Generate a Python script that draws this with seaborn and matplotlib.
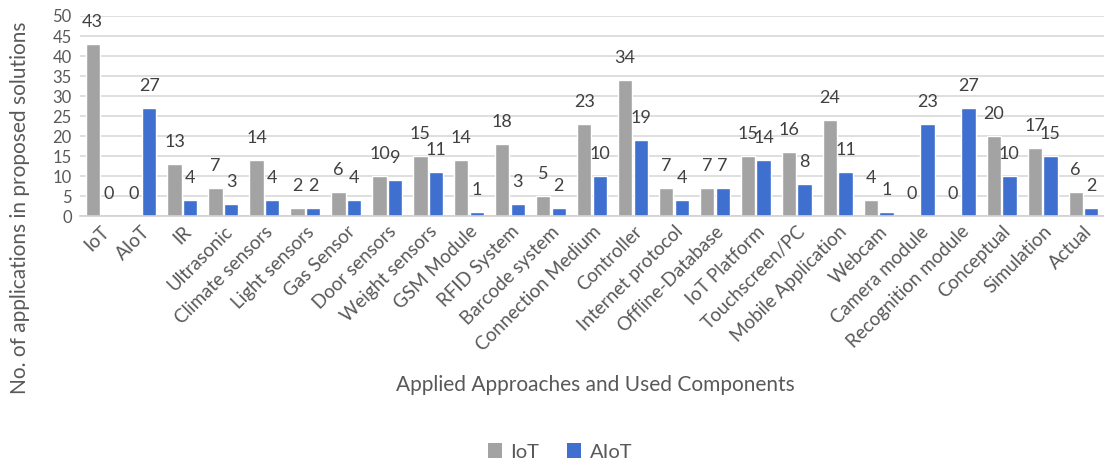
import matplotlib
matplotlib.use("Agg")
import matplotlib.pyplot as plt
import seaborn as sns
import pandas as pd
from matplotlib.patches import Patch

categories = ["IoT", "AIoT", "IR", "Ultrasonic", "Climate sensors", "Light sensors",
              "Gas Sensor", "Door sensors", "Weight sensors", "GSM Module", "RFID System",
              "Barcode system", "Connection Medium", "Controller", "Internet protocol",
              "Offline-Database", "IoT Platform", "Touchscreen/PC", "Mobile Application",
              "Webcam", "Camera module", "Recognition module", "Conceptual", "Simulation",
              "Actual"]
iot_values = [43, 0, 13, 7, 14, 2, 6, 10, 15, 14, 18, 5, 23, 34, 7, 7, 15, 16, 24, 4, 0, 0, 20, 17, 6]
aiot_values = [0, 27, 4, 3, 4, 2, 4, 9, 11, 1, 3, 2, 10, 19, 4, 7, 14, 8, 11, 1, 23, 27, 10, 15, 2]
series_names = ["IoT", "AIoT"]
y_ticks = [0, 5, 10, 15, 20, 25, 30, 35, 40, 45, 50]

sns.set_style("white")
plt.rcParams['font.family'] = ['Lato', 'DejaVu Sans']

df = pd.DataFrame({
    "cat": categories * 2,
    "val": iot_values + aiot_values,
    "series": [series_names[0]] * len(categories) + [series_names[1]] * len(categories),
})

colors = {"IoT": "#A3A3A3", "AIoT": "#3F6FCF"}
text_col = "#595959"

fig = plt.figure(figsize=(11.04, 4.65), dpi=100)
ax = fig.add_axes([80 / 1104, 1 - 216 / 465, 1024 / 1104, 200 / 465])
sns.barplot(data=df, x="cat", y="val", hue="series", palette=colors, width=0.76,
            gap=0.08, ax=ax, legend=False, saturation=1)

ax.set_ylim(0, 50)
ax.set_yticks(y_ticks)
ax.set_xlim(-0.5, len(categories) - 0.5)
ax.yaxis.grid(True, color="#D9D9D9", linewidth=1.2)
ax.set_axisbelow(True)
for s in ["top", "right", "left"]:
    ax.spines[s].set_visible(False)
ax.spines["bottom"].set_color("#D0D0D0")
ax.spines["bottom"].set_linewidth(1.2)
ax.tick_params(axis="both", length=0, colors=text_col)
ax.tick_params(axis="y", pad=6, labelsize=12)
ax.tick_params(axis="x", pad=5, labelsize=13.5)
ax.set_xticks(range(len(categories)))
ax.set_xticklabels(categories, rotation=45, ha="right", rotation_mode="anchor")
ax.set_xlabel("")
ax.set_ylabel("")

for cont in ax.containers:
    ax.bar_label(cont, padding=10, color="#404040", fontsize=13)

fig.text(20 / 1104, 1 - 208 / 465, "No. of applications in proposed solutions",
         rotation=90, ha="center", va="center", fontsize=15, color=text_col)
fig.text(595 / 1104, 1 - 385 / 465, "Applied Approaches and Used Components",
         ha="center", va="center", fontsize=15, color=text_col)

handles = [Patch(facecolor=colors[n], edgecolor="none") for n in series_names]
fig.legend(handles, series_names, loc="center", bbox_to_anchor=(560 / 1104, 1 - 452 / 465),
           ncol=2, frameon=False, fontsize=14.5, labelcolor=text_col, handlelength=0.7,
           handleheight=0.7, handletextpad=0.4, columnspacing=1.4)

fig.savefig("out.png", dpi=100)
